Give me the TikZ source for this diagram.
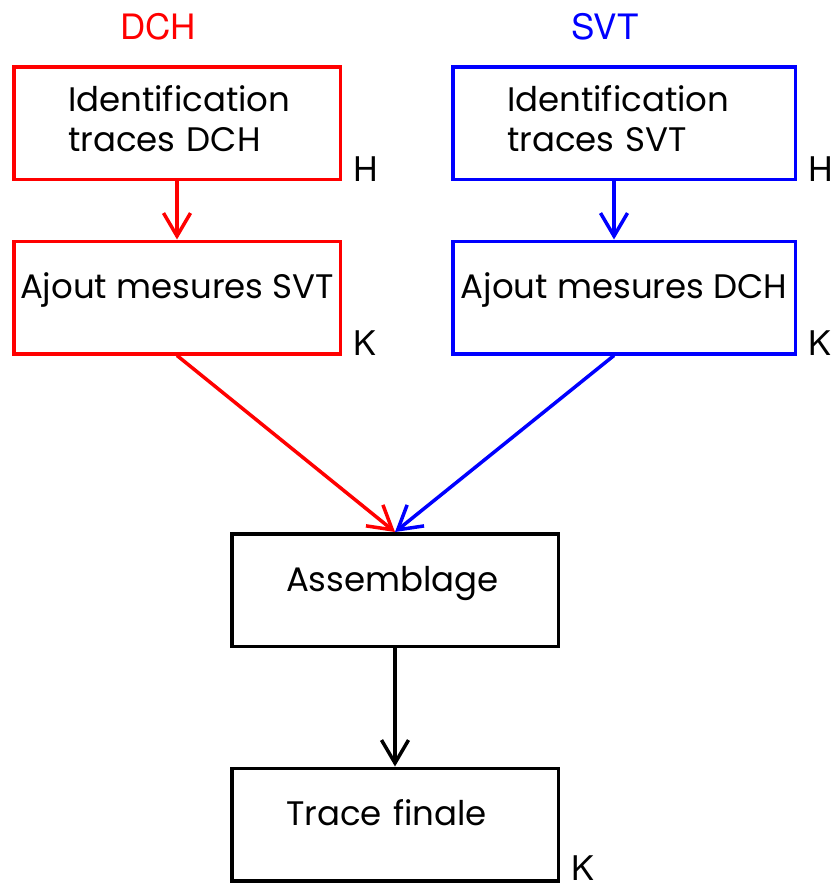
\documentclass[tikz,border=0pt]{standalone}
\usepackage{fontspec}
\newfontfamily\boitefont{Poppins}
\newfontfamily\titrefont{TeX Gyre Heros}
\usetikzlibrary{arrows.meta}
\definecolor{rouge}{rgb}{1,0,0}
\definecolor{bleu}{rgb}{0,0,1}
\newcommand{\policeboite}{\boitefont\fontsize{34}{40}\selectfont}
\newcommand{\policetitre}{\titrefont\fontsize{35}{40}\selectfont}
\newcommand{\policelabel}{\titrefont\fontsize{34}{40}\selectfont}
\tikzstyle{boite}=[
    draw,line width=3.5pt,inner sep=0pt,
    minimum height=112.5pt,text height=57.25pt,text depth=55.25pt,
    font=\policeboite
    ]
\tikzstyle{gauche}=[align=left,inner xsep=54.25pt]
\tikzstyle{fleche}=[line width=3.5pt,-{Straight Barb[length=23pt,width=27pt]}]
\tikzstyle{etiquette}=[inner sep=0pt,anchor=base west,font=\policelabel]

\begin{document}
\begin{tikzpicture}[
x=1pt,y=-1pt
]
\useasboundingbox (0,0) rectangle (832,886);
%titres
\node[inner sep=0pt,anchor=base,font=\policetitre,text=rouge] (tdch) at (158,39) {DCH};
\node[inner sep=0pt,anchor=base,font=\policetitre,text=bleu] (tsvt) at (605,39) {SVT};
%colonne DCH
\node[boite,gauche,draw=rouge,text width=218pt,text height=45pt,text depth=67.5pt] (iddch) at (177,123) {Identification\\traces DCH};
\node[boite,draw=rouge,minimum width=326.5pt] (ajsvt) at (177,297.5) {Ajout mesures SVT};
%colonne SVT
\node[boite,gauche,draw=bleu,text width=234pt,text height=45pt,text depth=67.5pt] (idsvt) at (624,123) {Identification\\traces SVT};
\node[boite,draw=bleu,minimum width=342.5pt] (ajdch) at (624,297.5) {Ajout mesures DCH};
%assemblage et trace finale
\node[boite,gauche,text width=218pt] (asm) at (395,590) {Assemblage};
\node[boite,gauche,text width=218pt] (fin) at (395,824.5) {Trace finale};
%lettres H et K
\node[etiquette] (hdch) at ([xshift=11pt]iddch.south east) {H};
\node[etiquette] (hsvt) at ([xshift=11pt]idsvt.south east) {H};
\node[etiquette] (kdch) at ([xshift=11pt]ajsvt.south east) {K};
\node[etiquette] (ksvt) at ([xshift=11pt]ajdch.south east) {K};
\node[etiquette] (kfin) at ([xshift=11pt,yshift=2pt]fin.south east) {K};
%fleches
\draw[fleche,rouge] (iddch) -- (ajsvt);
\draw[fleche,bleu] ([xshift=-10pt]idsvt.south) -- ([xshift=-10pt]ajdch.north);
\draw[fleche,rouge] (ajsvt.south) -- (asm.north);
\draw[fleche,bleu] ([xshift=-10pt]ajdch.south) -- (asm.north);
\draw[fleche] (asm) -- (fin);
\end{tikzpicture}
\end{document}
